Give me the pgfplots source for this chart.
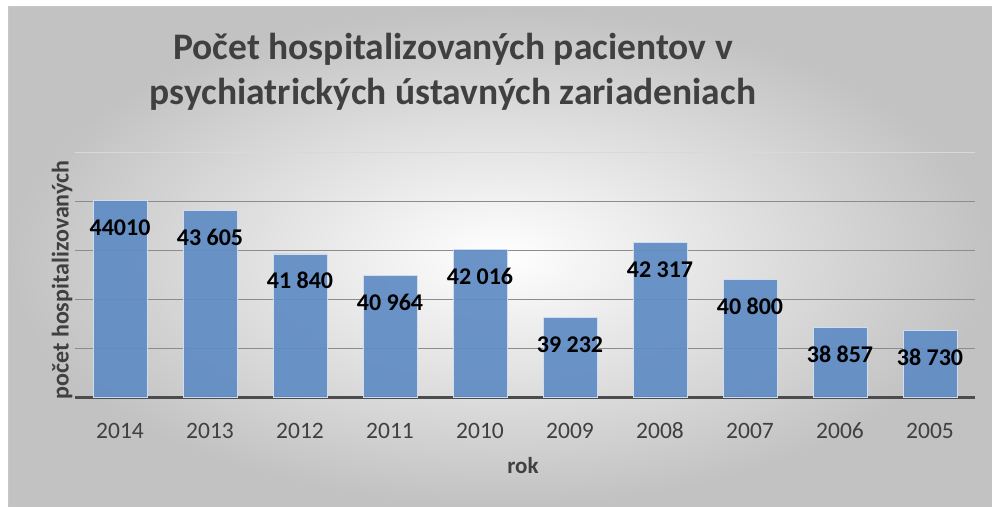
\documentclass[border=0pt]{standalone}
\usepackage{pgfplots}
\pgfplotsset{compat=1.18}
\usepackage{fontspec}
\setmainfont{Carlito}
\definecolor{barblue}{RGB}{96,140,197}
\definecolor{txt}{RGB}{64,64,64}
\begin{document}
\begin{tikzpicture}[x=1pt,y=1pt]
\path[use as bounding box] (0,0) rectangle (992,506);
\shade[inner color=white, outer color=black!24] (8,0) rectangle (992,499);
\draw[black!22, line width=1pt] (8,499) -- (992,499);
\draw[black!22, line width=1pt] (8,0) -- (8,499);
\begin{axis}[at={(75pt,109pt)}, anchor=south west, scale only axis,
  width=900pt, height=245pt,
  xmin=-0.5, xmax=9.5, ymin=36000, ymax=46000,
  enlargelimits=false, scaled y ticks=false,
  axis x line=bottom, axis y line=left,
  x axis line style={draw=black!70, line width=3pt, -},
  y axis line style={draw=none},
  ybar, bar width=54pt,
  xtick=data, xticklabels={2014,2013,2012,2011,2010,2009,2008,2007,2006,2005},
  major tick length=0pt,
  ytick={38000,40000,42000,44000}, yticklabels={},
  extra y ticks={46000}, extra y tick labels={},
  extra y tick style={grid style={draw=black!15, line width=0.8pt}},
  ymajorgrids, grid style={draw=black!45, line width=0.8pt},
  xticklabel style={font=\fontsize{23.5}{23.5}\selectfont, text=txt, text height=16pt, text depth=0pt, yshift=-22pt},
  nodes near coords, point meta=explicit symbolic,
  nodes near coords style={font=\bfseries\fontsize{24}{24}\selectfont, text=black, text height=16pt, text depth=0pt, anchor=center, yshift=-27pt},
]
\addplot[fill=barblue, fill opacity=0.93, draw=white!70!barblue, line width=0.8pt, text opacity=1]
  table[col sep=comma, x=x, y=y, meta=lab] {
x,y,lab
0,44010,44010
1,43605,43 605
2,41840,41 840
3,40964,40 964
4,42016,42 016
5,39232,39 232
6,42317,42 317
7,40800,40 800
8,38857,38 857
9,38730,38 730
};
\end{axis}
\node[font=\bfseries\fontsize{37.5}{45}\selectfont, text=txt, align=center] at (453,434)
  {Počet hospitalizovaných pacientov v\\psychiatrických ústavných zariadeniach};
\node[font=\bfseries\fontsize{24}{24}\selectfont, text=txt, rotate=90] at (62,226) {počet hospitalizovaných};
\node[font=\bfseries\fontsize{23}{23}\selectfont, text=txt] at (523,40) {rok};
\end{tikzpicture}
\end{document}
